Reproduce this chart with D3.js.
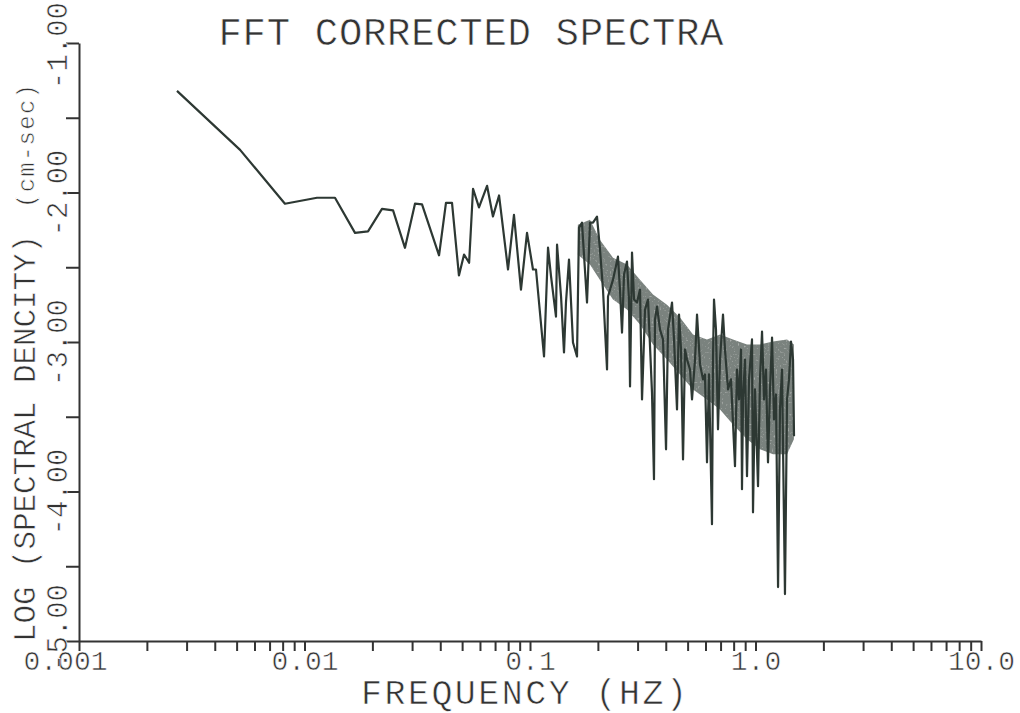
<!DOCTYPE html>
<html>
<head>
<meta charset="utf-8">
<script src="https://cdn.jsdelivr.net/npm/d3@7"></script>
<style>
  body { margin: 0; background: #fff; }
  text { font-family: "Liberation Mono", "DejaVu Sans Mono", monospace; fill: #333; stroke: #fff; stroke-width: 0.6px; }
</style>
</head>
<body>
<script>
// spectrum: frequency (Hz) and log10 spectral density
var freqs = [0.00272, 0.00518, 0.00819, 0.01136, 0.01365, 0.01675, 0.01913, 0.02206, 0.0247, 0.0279,
    0.0309, 0.0332, 0.0395, 0.0424, 0.0451, 0.0484, 0.0510, 0.0537, 0.0559, 0.0594,
    0.0645, 0.0685, 0.0729, 0.0799, 0.0849, 0.0912, 0.0970, 0.1031, 0.1063,
    0.1154, 0.1202, 0.1240, 0.1304, 0.1318, 0.1373, 0.1415, 0.1444, 0.1489, 0.1551,
    0.1616, 0.1649, 0.1700, 0.1790, 0.1845, 0.1903, 0.1982, 0.2044, 0.2107, 0.2196,
    0.2218, 0.2334, 0.2455, 0.2506, 0.2559, 0.2612, 0.2692, 0.2748, 0.2777, 0.2834,
    0.2893, 0.2983, 0.3075, 0.3139, 0.3236, 0.3337, 0.3475, 0.3547, 0.3583, 0.3658,
    0.3772, 0.3890, 0.4011, 0.4093, 0.4264, 0.4352, 0.4487, 0.4580, 0.4674, 0.4771,
    0.4869, 0.4969, 0.5124, 0.5230, 0.5393, 0.5504, 0.5675, 0.5852, 0.5970, 0.6094,
    0.6220, 0.6413, 0.6478, 0.6546, 0.6680, 0.6818, 0.6960, 0.7176, 0.7322, 0.7551,
    0.7787, 0.8111, 0.8279, 0.8450, 0.8625, 0.8712, 0.8803, 0.8983, 0.9169, 0.9359,
    0.9649, 0.9748, 0.9949, 1.026, 1.047, 1.069, 1.091, 1.113, 1.136, 1.160,
    1.184, 1.208, 1.233, 1.259, 1.284, 1.311, 1.351, 1.380, 1.408, 1.437,
    1.467, 1.482];
var logDensity = [-1.32, -1.715, -2.075, -2.035, -2.035, -2.27, -2.26, -2.11, -2.12, -2.37,
    -2.075, -2.08, -2.42, -2.07, -2.07, -2.555, -2.415, -2.47, -1.975, -2.10,
    -1.955, -2.16, -2.02, -2.515, -2.15, -2.65, -2.27, -2.515, -2.515,
    -3.097, -2.369, -2.563, -2.830, -2.349, -2.696, -3.070, -2.736, -2.449, -3.003,
    -3.097, -2.235, -2.202, -2.736, -2.202, -2.202, -2.162, -2.382, -2.649, -3.184,
    -2.696, -2.583, -2.429, -2.649, -2.937, -2.549, -2.462, -2.716, -3.297, -2.402,
    -2.716, -2.736, -2.649, -3.384, -2.783, -2.716, -3.337, -3.918, -2.850, -2.763,
    -2.917, -2.983, -3.718, -2.917, -2.736, -2.983, -3.451, -2.816, -3.050, -3.785,
    -3.050, -3.117, -3.184, -3.384, -3.117, -2.816, -3.150, -3.250, -3.217, -3.805,
    -3.217, -4.219, -3.117, -2.716, -2.917, -3.584, -3.117, -2.816, -3.050, -3.317,
    -3.250, -3.831, -3.184, -3.384, -3.050, -3.985, -3.384, -3.117, -3.898, -3.250,
    -2.983, -4.139, -3.317, -3.965, -3.250, -2.930, -3.384, -3.184, -3.805, -3.317,
    -2.970, -3.518, -3.351, -4.639, -3.451, -3.184, -4.686, -3.384, -3.250, -2.997,
    -3.117, -3.631];

// grey smear of the densely plotted part (upper / lower edge)
var bandFreq = [0.163, 0.1845, 0.204, 0.2334, 0.2692, 0.3075, 0.3511, 0.405, 0.4625, 0.5282,
    0.6094, 0.696, 0.7946, 0.9169, 1.047, 1.196, 1.38, 1.48];
var bandTop = [-2.215, -2.182, -2.316, -2.436, -2.482, -2.583, -2.683, -2.750, -2.836, -2.950,
    -2.983, -2.950, -2.983, -3.017, -3.017, -2.997, -2.983, -3.017];
var bandBottom = [-2.416, -2.482, -2.583, -2.716, -2.783, -2.883, -3.017, -3.117, -3.217, -3.317,
    -3.384, -3.451, -3.551, -3.651, -3.718, -3.751, -3.751, -3.651];

var xTickValues = [];
[0.001, 0.01, 0.1, 1].forEach(function (dec) {
    for (var k = 1; k < 10; k++) xTickValues.push(+(dec * k).toPrecision(3));
});
xTickValues.push(10);
var xLabels = {0.001: "0.001", 0.01: "0.01", 0.1: "0.1", 1: "1.0", 10: "10.0"};
var yTickValues = [-1, -1.5, -2, -2.5, -3, -3.5, -4, -4.5, -5];

var width = 1020, height = 713;
var x = d3.scaleLog().domain([0.001, 10]).range([79, 981]);
var y = d3.scaleLinear().domain([-5, -1]).range([641, 43]);

var svg = d3.select('body').append('svg')
    .attr('width', width)
    .attr('height', height);

// light speckle for the grey smear
var grain = svg.append('defs').append('filter')
    .attr('id', 'grain')
    .attr('x', 0).attr('y', 0).attr('width', 1).attr('height', 1);
grain.append('feTurbulence')
    .attr('type', 'fractalNoise')
    .attr('baseFrequency', 0.5)
    .attr('numOctaves', 2)
    .attr('seed', 4)
    .attr('result', 'noise');
grain.append('feColorMatrix')
    .attr('in', 'noise')
    .attr('type', 'matrix')
    .attr('values', '0 0 0 0 0.78  0 0 0 0 0.8  0 0 0 0 0.79  0 0 0 1.5 -0.9')
    .attr('result', 'speck');
grain.append('feComposite')
    .attr('in', 'speck').attr('in2', 'SourceGraphic')
    .attr('operator', 'in').attr('result', 'dots');
var merge = grain.append('feMerge');
merge.append('feMergeNode').attr('in', 'SourceGraphic');
merge.append('feMergeNode').attr('in', 'dots');

// title
svg.append('text')
    .attr('x', 471).attr('y', 45)
    .attr('text-anchor', 'middle')
    .attr('textLength', 505)
    .style('font-size', '39px')
    .text('FFT CORRECTED SPECTRA');

// band of overplotted samples
var area = d3.area()
    .x(function (d, i) { return x(bandFreq[i]); })
    .y0(function (d, i) { return y(bandBottom[i]); })
    .y1(function (d, i) { return y(bandTop[i]); });
svg.append('path')
    .datum(bandFreq)
    .attr('d', area)
    .attr('fill', '#7a827e')
    .attr('filter', 'url(#grain)');

// spectrum line
var line = d3.line()
    .x(function (d) { return x(d[0]); })
    .y(function (d) { return y(d[1]); });
svg.append('path')
    .datum(d3.zip(freqs, logDensity))
    .attr('d', line)
    .attr('fill', 'none')
    .attr('stroke', '#2d3833')
    .attr('stroke-width', 2.2)
    .attr('stroke-linejoin', 'round');

// x axis
var xAxis = svg.append('g')
    .attr('transform', 'translate(0,641)')
    .call(d3.axisBottom(x)
        .tickValues(xTickValues)
        .tickSize(10)
        .tickSizeOuter(0)
        .tickFormat(function (d) { return xLabels[d] || ''; }));
xAxis.selectAll('text')
    .attr('y', 29).attr('dy', 0)
    .attr('dx', function (d) { return d === 0.001 ? -14 : 0; })
    .style('font-size', '28px');

// y axis
var yAxis = svg.append('g')
    .attr('transform', 'translate(79,0)')
    .call(d3.axisLeft(y)
        .tickValues(yTickValues)
        .tickSize(13)
        .tickSizeOuter(0)
        .tickFormat(function (d) { return Number.isInteger(d) ? d.toFixed(2) : ''; }));
yAxis.selectAll('text')
    .attr('transform', 'rotate(-90)')
    .attr('text-anchor', 'middle')
    .attr('x', function (d) { return d === -5 ? 14 : (d === -1 ? -2 : 0); })
    .attr('y', -12).attr('dy', 0)
    .style('font-size', '29px');

svg.selectAll('.domain, .tick line')
    .attr('stroke', '#333')
    .attr('stroke-width', 2);

// axis titles
svg.append('text')
    .attr('x', 524).attr('y', 704)
    .attr('text-anchor', 'middle')
    .attr('textLength', 326)
    .style('font-size', '35px')
    .text('FREQUENCY (HZ)');

var yTitle = svg.append('g').attr('transform', 'translate(35,0) rotate(-90)');
yTitle.append('text')
    .attr('x', -642).attr('y', 0)
    .attr('textLength', 407)
    .style('font-size', '31px')
    .text('LOG (SPECTRAL DENCITY)');
yTitle.append('text')
    .attr('x', -208).attr('y', -1)
    .attr('textLength', 124)
    .style('font-size', '24px')
    .text('(cm-sec)');
</script>
</body>
</html>
